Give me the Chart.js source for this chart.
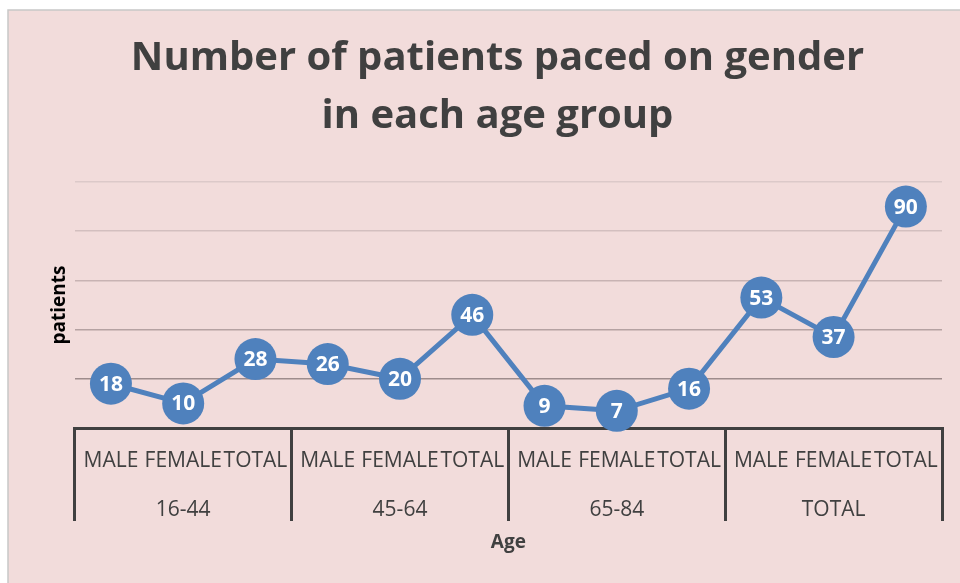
<!DOCTYPE html>
<html>
<head>
<meta charset="utf-8">
<script src="https://cdn.jsdelivr.net/npm/chart.js@4/dist/chart.umd.min.js"></script>
<style>
  html, body { margin: 0; padding: 0; background: #ffffff; overflow: hidden; }
  #wrap { width: 960px; height: 583px; position: relative; overflow: hidden; }
  #c { position: absolute; left: 0; top: 0; }
</style>
</head>
<body>
<div id="wrap"><canvas id="c" width="963" height="583"></canvas></div>
<script>
// ---- data ----
const genderLabels = ["MALE", "FEMALE", "TOTAL", "MALE", "FEMALE", "TOTAL", "MALE", "FEMALE", "TOTAL", "MALE", "FEMALE", "TOTAL"];
const ageGroups = ["16-44", "45-64", "65-84", "TOTAL"];
const patients = [18, 10, 28, 26, 20, 46, 9, 7, 16, 53, 37, 90];
const titleLines = ["Number of patients paced on gender", "in each age group"];
const yTitle = "patients";
const xTitle = "Age";

const DARK = "#404040";
const PINK = "#F2DCDB";
const BLUE = "#4F81BD";
const gridShades = { 20: "#9E8C8C", 40: "#B5A2A2", 60: "#C8B3B3", 80: "#D3BFBF", 100: "#DCC9C9" };
const CLEAR = "rgba(0,0,0,0)";

const bgPlugin = {
  id: "bg",
  beforeDraw(chart) {
    const ctx = chart.ctx;
    ctx.save();
    ctx.fillStyle = "#ffffff";
    ctx.fillRect(0, 0, chart.width, chart.height);
    ctx.fillStyle = PINK;
    ctx.fillRect(8, 10, chart.width - 8, chart.height - 10);
    ctx.strokeStyle = "#C8C8C8";
    ctx.lineWidth = 1.5;
    ctx.beginPath();
    ctx.moveTo(8, chart.height);
    ctx.lineTo(8, 10);
    ctx.lineTo(chart.width, 10);
    ctx.stroke();
    ctx.restore();
  }
};

const valueLabels = {
  id: "valueLabels",
  afterDatasetsDraw(chart) {
    const ctx = chart.ctx;
    const meta = chart.getDatasetMeta(0);
    ctx.save();
    ctx.fillStyle = "#ffffff";
    ctx.font = "bold 21px 'Open Sans'";
    ctx.textAlign = "center";
    ctx.textBaseline = "middle";
    meta.data.forEach((pt, i) => {
      ctx.fillText(String(chart.data.datasets[0].data[i]), pt.x, pt.y + 1);
    });
    ctx.restore();
  }
};

new Chart(document.getElementById("c"), {
  type: "line",
  data: {
    labels: genderLabels,
    datasets: [{
      data: patients,
      borderColor: BLUE,
      backgroundColor: BLUE,
      borderWidth: 5,
      pointRadius: 21,
      pointHoverRadius: 21,
      pointBackgroundColor: BLUE,
      pointBorderColor: BLUE,
      pointBorderWidth: 0,
      tension: 0,
      clip: false
    }]
  },
  options: {
    responsive: false,
    animation: false,
    devicePixelRatio: 1,
    events: [],
    layout: { padding: { left: 47, right: 15, top: 0, bottom: 8 } },
    plugins: {
      legend: { display: false },
      tooltip: { enabled: false },
      title: {
        display: true,
        text: titleLines,
        color: DARK,
        font: { family: "Open Sans", weight: "bold", size: 40, lineHeight: 1.45 },
        padding: { top: 30, bottom: 36 }
      }
    },
    scales: {
      y: {
        min: 0,
        max: 100,
        ticks: { display: false, stepSize: 20 },
        grid: {
          drawTicks: false,
          lineWidth: 1.5,
          color: (c) => (c.tick && gridShades[c.tick.value]) || CLEAR
        },
        border: { display: false },
        title: {
          display: true,
          text: yTitle,
          color: "#000000",
          font: { family: "Open Sans", weight: "bold", size: 19, lineHeight: 1.2 },
          padding: { top: 1, bottom: 4 }
        }
      },
      x: {
        offset: true,
        grid: {
          offset: true,
          drawOnChartArea: false,
          drawTicks: true,
          tickLength: 93,
          lineWidth: 3,
          color: (c) => (c.index === undefined || c.index % 3 === 0) ? DARK : CLEAR
        },
        border: { display: true, color: DARK, width: 3 },
        ticks: {
          autoSkip: false,
          maxRotation: 0,
          minRotation: 0,
          mirror: true,
          padding: -45.6,
          color: DARK,
          font: { family: "Open Sans", size: 21, lineHeight: 1.2 }
        }
      },
      x2: {
        type: "category",
        position: "bottom",
        labels: ageGroups,
        offset: true,
        grid: { display: false, drawTicks: false, drawOnChartArea: false },
        border: { display: false },
        ticks: {
          autoSkip: false,
          maxRotation: 0,
          minRotation: 0,
          padding: 67.6,
          color: DARK,
          font: { family: "Open Sans", size: 21, lineHeight: 1.2 }
        },
        title: {
          display: true,
          text: xTitle,
          color: DARK,
          font: { family: "Open Sans", weight: "bold", size: 19, lineHeight: 1.2 },
          padding: { top: -58.6, bottom: 20.6 }
        }
      }
    }
  },
  plugins: [bgPlugin, valueLabels]
});
</script>
</body>
</html>
